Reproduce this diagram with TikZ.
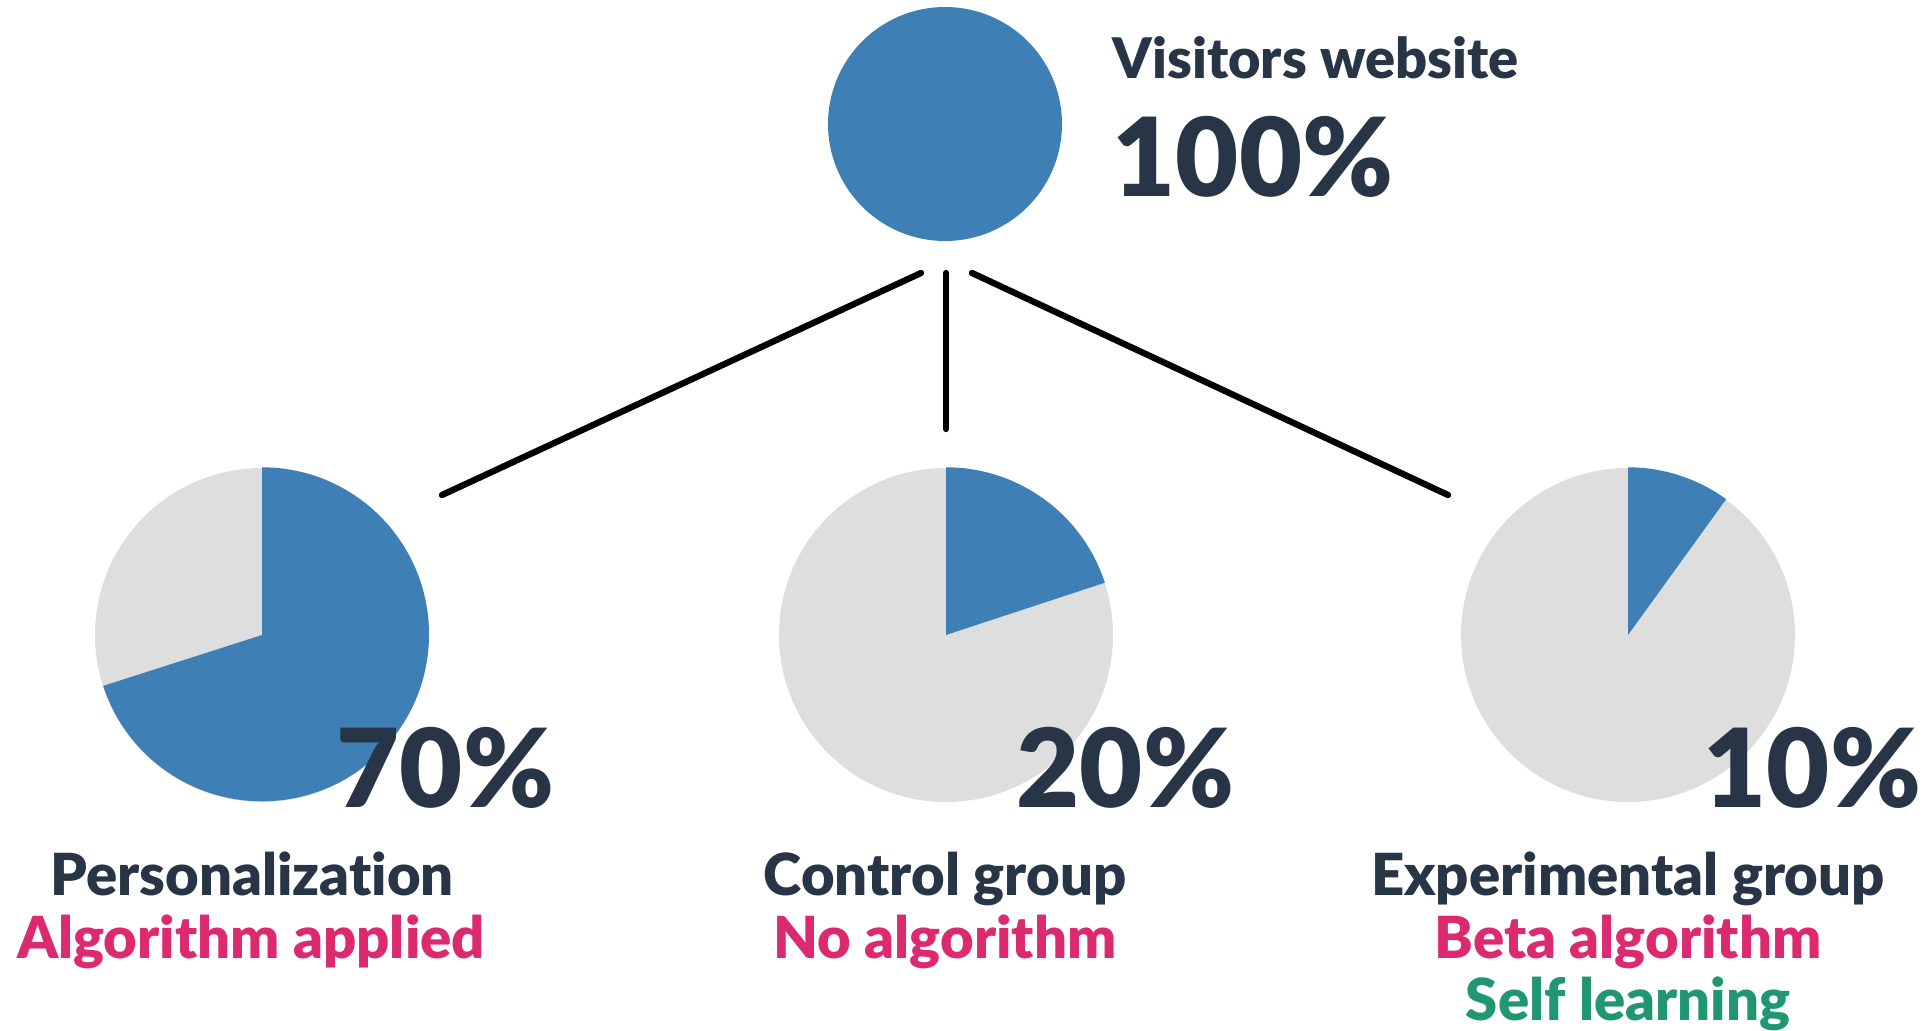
\documentclass[tikz,border=0pt]{standalone}
\usepackage{fontspec}
\setmainfont{Lato}[BoldFont={Lato Black},Ligatures=NoCommon]
\definecolor{pieblue}{HTML}{3E80B5}
\definecolor{piegrey}{HTML}{DEDEDE}
\definecolor{darktext}{HTML}{283546}
\definecolor{pinktext}{HTML}{DC2A70}
\definecolor{greentext}{HTML}{219673}
\tikzset{
  pie/.style={circle,fill=piegrey,minimum size=3.34cm,inner sep=0},
  pct/.style={anchor=base west,inner sep=0,text=darktext,font=\fontsize{31}{31}\selectfont\bfseries},
  grp/.style={anchor=base,inner sep=0,text=darktext,font=\fontsize{16.5}{16.5}\selectfont\bfseries},
  sub/.style={anchor=base,inner sep=0,text=pinktext,font=\fontsize{16.5}{16.5}\selectfont\bfseries},
  branch/.style={line width=1.8pt,line cap=round}
}
\begin{document}
\begin{tikzpicture}
\useasboundingbox (0,0) rectangle (19.31,-10.31);
% top
\node[circle,fill=pieblue,minimum size=2.34cm,inner sep=0] (V) at (9.45,-1.24) {};
\node[anchor=base west,inner sep=0,text=darktext,font=\fontsize{15.9}{15.9}\selectfont\bfseries] (VT) at (11.12,-0.79) {Visitors website};
\node[anchor=base west,inner sep=0,text=darktext,font=\fontsize{31}{31}\selectfont\bfseries] (VP) at (11.12,-1.97) {100\%};
% pies
\node[pie] (P1) at (2.62,-6.35) {};
\node[pie] (P2) at (9.46,-6.35) {};
\node[pie] (P3) at (16.28,-6.35) {};
\fill[pieblue] (P1.center) -- (P1.north) arc[start angle=90,end angle=-162,radius=1.67] -- cycle;
\fill[pieblue] (P2.center) -- (P2.north) arc[start angle=90,end angle=18,radius=1.67] -- cycle;
\fill[pieblue] (P3.center) -- (P3.north) arc[start angle=90,end angle=54,radius=1.67] -- cycle;
% branches
\coordinate (a0) at (9.21,-2.73);
\coordinate (b0) at (9.46,-2.73);
\coordinate (c0) at (9.72,-2.73);
\coordinate (a1) at (4.42,-4.95);
\coordinate (b1) at (9.46,-4.29);
\coordinate (c1) at (14.48,-4.95);
\draw[branch] (a0) -- (a1);
\draw[branch] (b0) -- (b1);
\draw[branch] (c0) -- (c1);
% percentages
\node[pct] (N1) at (3.36,-8.07) {70\%};
\node[pct] (N2) at (10.16,-8.07) {20\%};
\node[pct] (N3) at (17.03,-8.07) {10\%};
% labels
\node[grp] (G1) at (2.52,-8.95) {Personalization};
\node[sub] (S1) at (2.51,-9.58) {Algorithm applied};
\node[grp] (G2) at (9.45,-8.95) {Control group};
\node[sub] (S2) at (9.45,-9.58) {No algorithm};
\node[grp] (G3) at (16.28,-8.95) {Experimental group};
\node[sub] (S3) at (16.28,-9.58) {Beta algorithm};
\node[sub,text=greentext] (L3) at (16.28,-10.20) {Self learning};
\end{tikzpicture}
\end{document}
